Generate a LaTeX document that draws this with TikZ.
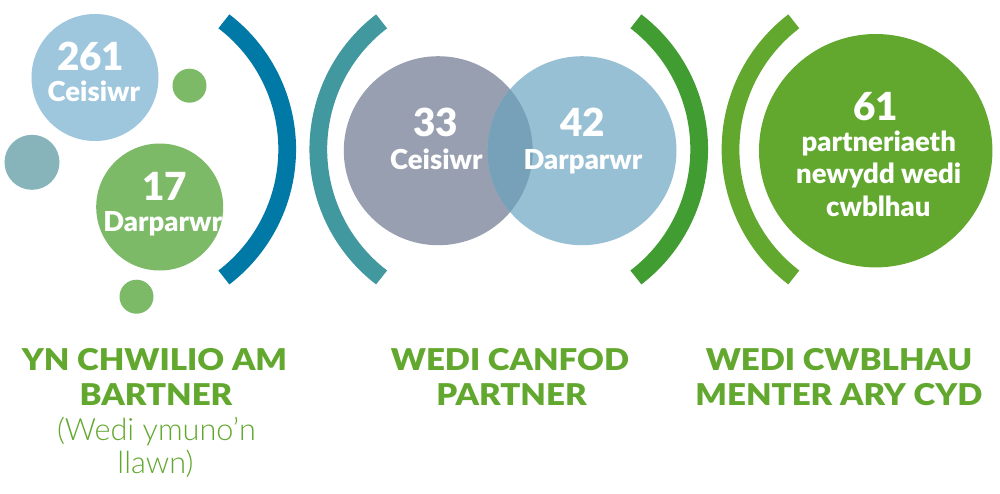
\documentclass[tikz,border=0pt]{standalone}
\usepackage{fontspec}
\setmainfont{Lato}
\newfontfamily\blackf{Lato Black}
\newfontfamily\headf[FakeStretch=1.1]{Lato Black}
\newfontfamily\lightf{Lato Light}
\definecolor{cA}{HTML}{0079A6}
\definecolor{cB}{HTML}{42989F}
\definecolor{cC}{HTML}{419D32}
\definecolor{cD}{HTML}{62A82F}
\definecolor{cLB}{HTML}{9EC7DE}
\definecolor{cLG}{HTML}{7DBA68}
\definecolor{cTG}{HTML}{86B4BA}
\definecolor{cSl}{HTML}{989FB0}
\definecolor{cVb}{HTML}{98C0D4}
\definecolor{cOv}{HTML}{76A1B8}
\begin{document}
\begin{tikzpicture}[x=0.75pt,y=-0.75pt,
  disc/.style={circle,draw=none,inner sep=0pt,minimum size=#1*0.75pt},
  bracket/.style={line width=13.3pt,line cap=butt},
  num/.style={anchor=base,text=white,inner sep=0pt,font=\fontsize{29}{29}\selectfont\blackf},
  lab/.style={anchor=base,text=white,inner sep=0pt,font=\fontsize{20.6}{20.6}\selectfont\blackf},
  head/.style={anchor=base,text=cD,inner sep=0pt,font=\fontsize{22.5}{22.5}\selectfont\headf},
  sub/.style={anchor=base,text=cD,inner sep=0pt,font=\fontsize{23}{23}\selectfont\lightf}]
\useasboundingbox (0,0) rectangle (1000,493);
\fill[white] (0,0) rectangle (1000,493);
% brackets
\draw[bracket,cA] (126,149.4) ++(52.6:161.2) arc[start angle=52.6,end angle=-52.6,radius=161.2];
\draw[bracket,cB] (479.5,149.4) ++(127.4:161.2) arc[start angle=127.4,end angle=232.6,radius=161.2];
\draw[bracket,cC] (538,149.4) ++(52.6:161.2) arc[start angle=52.6,end angle=-52.6,radius=161.2];
\draw[bracket,cD] (891.7,149.4) ++(127.4:161.2) arc[start angle=127.4,end angle=232.6,radius=161.2];
% discs
\node[disc=127,fill=cLB] (a) at (95,77.5) {};
\node[disc=34,fill=cLG] (s1) at (189.5,85.7) {};
\node[disc=55,fill=cTG] (s2) at (32,162.3) {};
\node[disc=127,fill=cLG] (b) at (159.7,207) {};
\node[disc=34,fill=cLG] (s3) at (136.5,296.7) {};
\node[disc=189,fill=cSl] (c) at (438.3,150.7) {};
\node[disc=189,fill=cVb] (d) at (582,150.7) {};
\begin{scope}
\clip (438.3,150.7) circle[radius=94.4];
\fill[cOv] (582,150.7) circle[radius=94.6];
\end{scope}
\node[disc=233.4,fill=cD] (e) at (875.7,150.7) {};
% text
\node[num] (t1) at (90.7,70) {261};
\node[lab] (t2) at (93.8,101) {Ceisiwr};
\node[num] (t3) at (164.7,200) {17};
\node[lab] (t4) at (162.7,231.7) {Darparwr};
\node[num] (t5) at (435.5,136.7) {33};
\node[lab] (t6) at (436.3,169) {Ceisiwr};
\node[num] (t7) at (582.5,136.7) {42};
\node[lab] (t8) at (583,169) {Darparwr};
\node[num] (t9) at (875.8,120) {61};
\node[lab] (t10) at (878.7,151.7) {partneriaeth};
\node[lab] (t11) at (878.7,183) {newydd wedi};
\node[lab] (t12) at (878.3,216) {cwblhau};
\node[head] (h1) at (154.5,370) {YN CHWILIO AM};
\node[head] (h2) at (156,405) {BARTNER};
\node[sub] (h3) at (156.5,440) {(Wedi ymuno’n};
\node[sub] (h4) at (155.5,473) {llawn)};
\node[head] (h5) at (510,370) {WEDI CANFOD};
\node[head] (h6) at (511.5,405) {PARTNER};
\node[head] (h7) at (839,370) {WEDI CWBLHAU};
\node[head] (h8) at (839,405) {MENTER ARY CYD};
\end{tikzpicture}
\end{document}
